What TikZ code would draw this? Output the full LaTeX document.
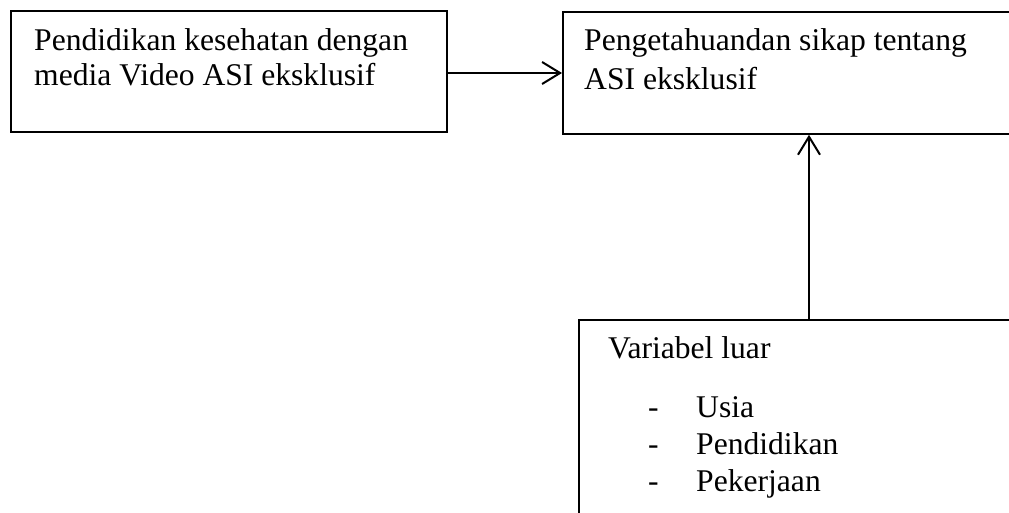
\documentclass[tikz,border=0pt]{standalone}
\usepackage{fontspec}
\setmainfont{Liberation Serif}
\usetikzlibrary{arrows.meta}
\begin{document}
\begin{tikzpicture}[x=1pt,y=-1pt,
  boxnode/.style={draw,line width=1.8pt,inner sep=0pt,anchor=north west},
  txt/.style={anchor=base west,inner sep=0pt,font=\fontsize{31.6}{35}\selectfont},
  arr/.style={line width=2pt,-{Straight Barb[length=18pt,width=22pt,line width=2pt]}}]
\useasboundingbox (0,0) rectangle (1009,513);
\clip (0,0) rectangle (1009,513);
% boxes
\node[boxnode,minimum width=436pt,minimum height=121pt] (kiri) at (10,10) {};
\node[boxnode,minimum width=480pt,minimum height=122pt] (kanan) at (562,11) {};
\node[boxnode,minimum width=480pt,minimum height=230pt] (bawah) at (578,319) {};
% texts
\node[txt] (t1a) at (34,51) {Pendidikan kesehatan dengan};
\node[txt] (t1b) at (34,86) {media Video ASI eksklusif};
\node[txt] (t2a) at (584,51) {Pengetahuandan sikap tentang};
\node[txt] (t2b) at (584,90) {ASI eksklusif};
\node[txt] (t3) at (608,358) {Variabel luar};
\node[txt] (d1) at (648,417) {-};
\node[txt] (d2) at (648,454) {-};
\node[txt] (d3) at (648,491) {-};
\node[txt] (i1) at (696,417) {Usia};
\node[txt] (i2) at (696,454) {Pendidikan};
\node[txt] (i3) at (696,491) {Pekerjaan};
% connectors
\coordinate (kiriout) at (446,73);
\coordinate (luar) at (809,319);
\draw[arr] (kiriout) -- (kiriout -| kanan.west);
\draw[arr] (luar) -- (luar |- kanan.south);
\end{tikzpicture}
\end{document}
